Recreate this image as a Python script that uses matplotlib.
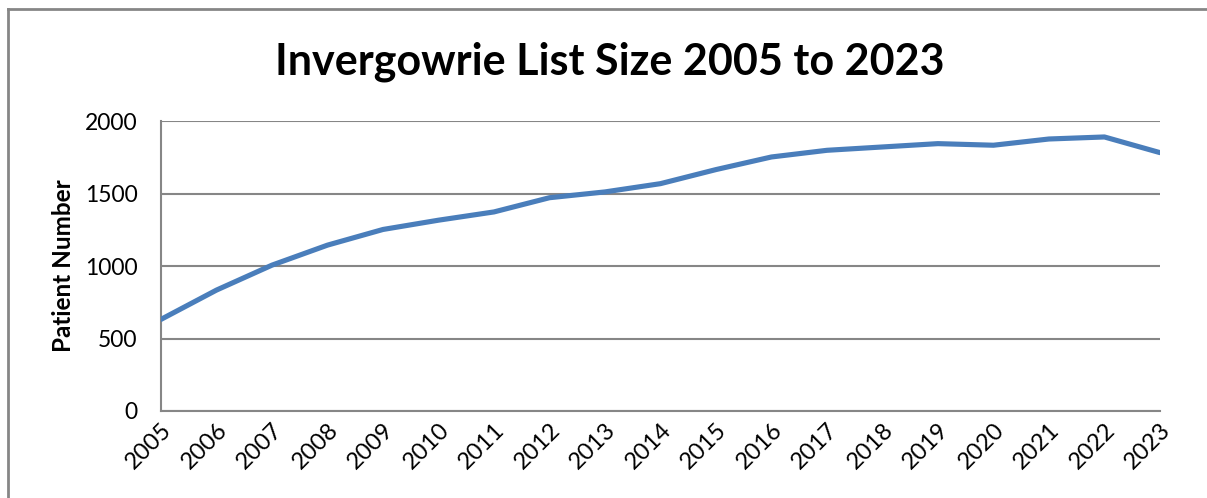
import matplotlib
matplotlib.use('Agg')
import matplotlib.pyplot as plt
from matplotlib.lines import Line2D

years = ['2005', '2006', '2007', '2008', '2009', '2010', '2011', '2012', '2013', '2014',
         '2015', '2016', '2017', '2018', '2019', '2020', '2021', '2022', '2023']
patients = [632, 834, 1006, 1144, 1252, 1316, 1373, 1471, 1511, 1568,
            1665, 1752, 1798, 1821, 1844, 1833, 1876, 1890, 1782]
yticks = [0, 500, 1000, 1500, 2000]

plt.rcParams['font.family'] = ['Lato', 'DejaVu Sans']
grey = '#868686'

fig = plt.figure(figsize=(12.07, 4.98), dpi=100)
ax = fig.add_axes([0.1334, 0.1747, 0.8276, 0.5823])

x = list(range(len(years)))
ax.plot(x, patients, color='#4A7EBB', linewidth=3.7, solid_capstyle='round', zorder=3)

ax.set_xlim(0, len(years) - 1)
ax.set_ylim(0, 2000)
ax.set_yticks(yticks)
ax.set_yticklabels([str(v) for v in yticks], fontsize=16.5)
ax.set_xticks(x)
ax.set_xticklabels(years, fontsize=17, rotation=45, ha='right', rotation_mode='anchor')
ax.tick_params(axis='both', length=0)
ax.tick_params(axis='y', pad=17)
ax.tick_params(axis='x', pad=6)
ax.yaxis.grid(True, color=grey, linewidth=1.5)
ax.set_axisbelow(True)
for s in ['top', 'right']:
    ax.spines[s].set_visible(False)
for s in ['left', 'bottom']:
    ax.spines[s].set_color(grey)
    ax.spines[s].set_linewidth(1.5)

ax.set_ylabel('Patient Number', fontsize=17.5, fontweight='bold', labelpad=7)
fig.text(0.505, 0.876, 'Invergowrie List Size 2005 to 2023', fontsize=31,
         fontweight='bold', ha='center', va='center')

# outer chart frame (top and left edges only visible)
fig.add_artist(Line2D([0.0066, 1.0], [0.9829, 0.9829], color=grey, linewidth=2))
fig.add_artist(Line2D([0.0066, 0.0066], [0.0, 0.9829], color=grey, linewidth=2))

fig.savefig('out.png', dpi=100)
